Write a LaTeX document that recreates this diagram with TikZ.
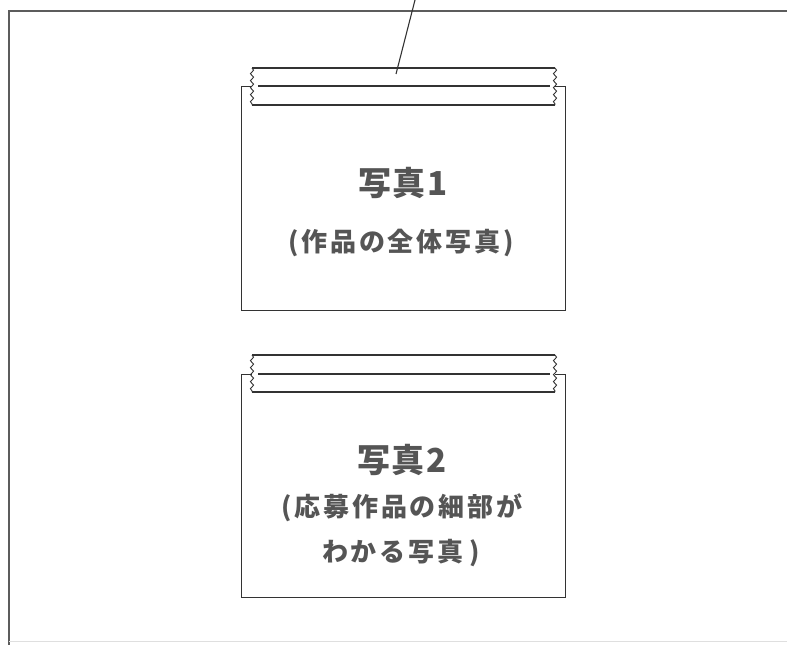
\documentclass[tikz,border=0pt]{standalone}
\usepackage{fontspec}
\newfontfamily\cjk{Noto Sans CJK JP}
\usetikzlibrary{decorations.pathmorphing}
\begin{document}
\definecolor{ink}{HTML}{333333}
\definecolor{txt}{HTML}{555555}
\tikzset{
  photo/.style={draw=ink, line width=1.3pt, fill=white},
  tapeline/.style={draw=ink, line width=1.1pt},
  wavy/.style={draw=ink, line width=0.9pt, decorate, decoration={snake, segment length=7pt, amplitude=1.6pt}},
  title/.style={text=txt, font=\cjk\bfseries\fontsize{33}{36}\selectfont, anchor=center, inner sep=0pt},
  sub/.style={text=txt, font=\cjk\bfseries\fontsize{26}{30}\selectfont, anchor=center, inner sep=0pt, align=center},
}
\newcommand{\gp}{\hspace{2.8pt}}
\begin{tikzpicture}[x=1pt, y=-1pt]
\useasboundingbox (0,0) rectangle (787,645);
% outer frame
\coordinate (fl) at (9,645);
\coordinate (ftl) at (9,11);
\coordinate (ftr) at (787,11);
\draw[draw=ink!80, line width=2pt] (fl) -- (ftl) -- (ftr);
\coordinate (fbl) at (9,641);
\coordinate (fbr) at (787,641);
\draw[draw=gray!25, line width=1pt] (fbl) -- (fbr);
% photo 1
\node[photo, minimum width=324pt, minimum height=224pt, anchor=north west, inner sep=0pt] (p1) at (241,86) {};
\path[fill=white] (252,68) rectangle (555,105);
\draw[tapeline] (252,68) -- (555,68);
\draw[tapeline] (252,105) -- (555,105);
\draw[tapeline] (258,86) -- (550,86);
\draw[wavy] (252,68) -- (252,105);
\draw[wavy] (555,68) -- (555,105);
\coordinate (t1) at (396,74);
\coordinate (lead) at (415,0);
\draw[draw=ink, line width=1.1pt] (lead) -- (t1);
\node[title] (h1) at (403,183) {写\hspace{1.5pt}真\hspace{1.5pt}1};
\node[sub] (s1) at (401,243) {(\gp 作\gp 品\gp の\gp 全\gp 体\gp 写\gp 真\gp )};
% photo 2
\node[photo, minimum width=324pt, minimum height=223pt, anchor=north west, inner sep=0pt] (p2) at (241,374) {};
\path[fill=white] (252,355) rectangle (555,392);
\draw[tapeline] (252,355) -- (555,355);
\draw[tapeline] (252,392) -- (555,392);
\draw[tapeline] (258,374) -- (550,374);
\draw[wavy] (252,355) -- (252,392);
\draw[wavy] (555,355) -- (555,392);
\node[title] (h2) at (402,460) {写\hspace{1.5pt}真\hspace{1.5pt}2};
\node[sub] (s2) at (402,508) {(\gp 応\gp 募\gp 作\gp 品\gp の\gp 細\gp 部\gp が};
\node[sub] (s3) at (401,553) {わ\gp か\gp る\gp 写\gp 真\hspace{6pt})};
\end{tikzpicture}
\end{document}
